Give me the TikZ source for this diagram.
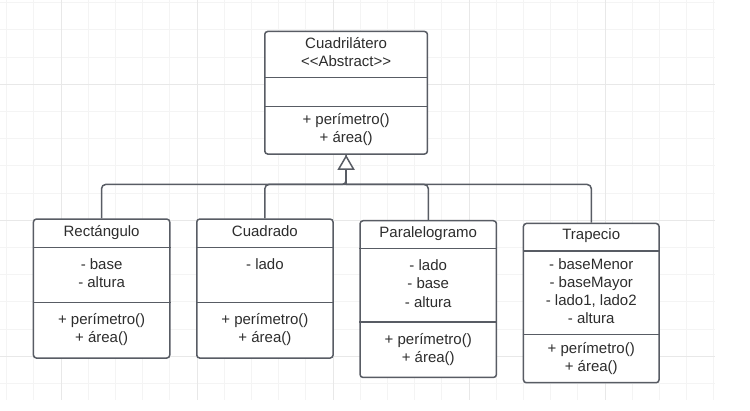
\documentclass[tikz,border=0pt]{standalone}
\usepackage{fontspec}
\setmainfont{Liberation Sans}
\usetikzlibrary{arrows.meta}
\definecolor{boxline}{RGB}{88,92,100}
\definecolor{txt}{RGB}{45,45,45}
\definecolor{gridminor}{RGB}{244,244,244}
\definecolor{gridmajor}{RGB}{232,232,232}
\begin{document}
\begin{tikzpicture}[x=1pt,y=-1pt,
  cls/.style={draw=boxline, line width=1.5pt, rounded corners=3pt, fill=white, inner sep=0pt, anchor=north west},
  sepline/.style={draw=boxline, line width=1.5pt},
  lbl/.style={text=txt, font=\fontsize{15}{18}\selectfont, inner sep=0pt, anchor=base},
  conn/.style={draw=boxline, line width=1.5pt, rounded corners=4pt},
  gmin/.style={draw=gridminor, line width=1pt},
  gmaj/.style={draw=gridmajor, line width=1pt},
]
\fill[white] (0,0) rectangle (750,411);
\useasboundingbox (0,0) rectangle (750,411);
% grid
\foreach \i in {0,...,26} { \draw[gmin] (6.7+27.2*\i,0) -- (6.7+27.2*\i,400); }
\foreach \j in {0,...,14} { \draw[gmin] (0,2.7+27.2*\j) -- (715,2.7+27.2*\j); }
\foreach \i in {2,7,12,17,22} { \draw[gmaj] (6.7+27.2*\i,0) -- (6.7+27.2*\i,400); }
\foreach \j in {3,8,13} { \draw[gmaj] (0,2.7+27.2*\j) -- (715,2.7+27.2*\j); }

% boxes
\node[cls, minimum width=162.7pt, minimum height=122.6pt] (cuad) at (264,30.7) {};
\node[cls, minimum width=136.3pt, minimum height=139pt] (rect) at (32.7,218.3) {};
\node[cls, minimum width=136.3pt, minimum height=139pt] (cdo) at (196,218.3) {};
\node[cls, minimum width=136.4pt, minimum height=156.7pt] (para) at (359.3,220) {};
\node[cls, minimum width=135.6pt, minimum height=159.3pt] (trap) at (522.7,222.7) {};

% dividers
\draw[sepline] (cuad.west |- 0,77.3) -- (cuad.east |- 0,77.3);
\draw[sepline] (cuad.west |- 0,106.7) -- (cuad.east |- 0,106.7);
\draw[sepline] (rect.west |- 0,247.7) -- (rect.east |- 0,247.7);
\draw[sepline] (rect.west |- 0,302.3) -- (rect.east |- 0,302.3);
\draw[sepline] (cdo.west |- 0,247.7) -- (cdo.east |- 0,247.7);
\draw[sepline] (cdo.west |- 0,302.3) -- (cdo.east |- 0,302.3);
\draw[sepline] (para.west |- 0,248.7) -- (para.east |- 0,248.7);
\draw[sepline] (para.west |- 0,322) -- (para.east |- 0,322);
\draw[sepline] (trap.west |- 0,251) -- (trap.east |- 0,251);
\draw[sepline] (trap.west |- 0,334.7) -- (trap.east |- 0,334.7);

% texts: Cuadrilatero
\node[lbl] (cuadT1) at (cuad.north |- 0,48.5) {Cuadrilátero};
\node[lbl] (cuadT2) at (cuad.north |- 0,66.8) {<\kern0pt<Abstract>\kern0pt>};
\node[lbl] (cuadM1) at (cuad.north |- 0,125) {+ perímetro()};
\node[lbl] (cuadM2) at (cuad.north |- 0,142.5) {+ área()};
% Rectangulo
\node[lbl] (rectT) at (rect.north |- 0,236.7) {Rectángulo};
\node[lbl] (rectA1) at (rect.north |- 0,269.3) {- base};
\node[lbl] (rectA2) at (rect.north |- 0,287.7) {- altura};
\node[lbl] (rectM1) at (rect.north |- 0,325) {+ perímetro()};
\node[lbl] (rectM2) at (rect.north |- 0,342.7) {+ área()};
% Cuadrado
\node[lbl] (cdoT) at (cdo.north |- 0,236.7) {Cuadrado};
\node[lbl] (cdoA1) at (cdo.north |- 0,269.3) {- lado};
\node[lbl] (cdoM1) at (cdo.north |- 0,325) {+ perímetro()};
\node[lbl] (cdoM2) at (cdo.north |- 0,342.7) {+ área()};
% Paralelogramo
\node[lbl] (paraT) at (para.north |- 0,237.7) {Paralelogramo};
\node[lbl] (paraA1) at (para.north |- 0,270.7) {- lado};
\node[lbl] (paraA2) at (para.north |- 0,289) {- base};
\node[lbl] (paraA3) at (para.north |- 0,307.3) {- altura};
\node[lbl] (paraM1) at (para.north |- 0,344.3) {+ perímetro()};
\node[lbl] (paraM2) at (para.north |- 0,362.7) {+ área()};
% Trapecio
\node[lbl] (trapT) at (trap.north |- 0,240) {Trapecio};
\node[lbl] (trapA1) at (trap.north |- 0,269.3) {- baseMenor};
\node[lbl] (trapA2) at (trap.north |- 0,287.7) {- baseMayor};
\node[lbl] (trapA3) at (trap.north |- 0,306) {- lado1, lado2};
\node[lbl] (trapA4) at (trap.north |- 0,323.3) {- altura};
\node[lbl] (trapM1) at (trap.north |- 0,354) {+ perímetro()};
\node[lbl] (trapM2) at (trap.north |- 0,371.7) {+ área()};

% connectors
\coordinate (j) at (cuad.south |- 0,184.5);
\draw[conn] (cdo.north) |- (j);
\draw[conn] (para.north) |- (j);
\draw[conn] (trap.north) |- (j);
\draw[conn] (rect.north) |- (j) -- (cuad.south);
\draw[conn, -{Triangle[length=15pt, width=17pt, fill=white]}] (j) -- (cuad.south);
\end{tikzpicture}
\end{document}
